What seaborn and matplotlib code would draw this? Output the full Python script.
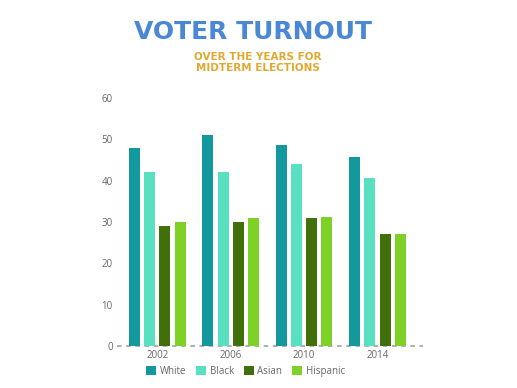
import matplotlib
matplotlib.use("Agg")
import matplotlib.pyplot as plt
import seaborn as sns
import pandas as pd

years = ["2002", "2006", "2010", "2014"]
groups = ["White", "Black", "Asian", "Hispanic"]
white = [48, 51, 48.6, 45.8]
black = [42, 42, 44, 40.7]
asian = [29, 30, 31, 27]
hispanic = [30, 31, 31.2, 27]
colors = ["#13989D", "#58E0C1", "#41700B", "#7ED127"]
yticks = [0, 10, 20, 30, 40, 50, 60]

rows = []
for g, vals in zip(groups, [white, black, asian, hispanic]):
    for y, v in zip(years, vals):
        rows.append({"Year": y, "Group": g, "Turnout": v})
df = pd.DataFrame(rows)

sns.set_style("white")
plt.rcParams["font.family"] = ["Open Sans", "DejaVu Sans"]

fig = plt.figure(figsize=(5.17, 3.88), dpi=100)
ax = fig.add_axes([117/517, 1-346/388, (423-117)/517, (346-98)/388])

sns.barplot(data=df, x="Year", y="Turnout", hue="Group", order=years,
            hue_order=groups, palette=colors, width=0.83, gap=0.28,
            saturation=1, ax=ax, legend=True, linewidth=0)

ax.set_ylim(0, 60)
ax.set_xlim(-0.55, 3.62)
ax.set_yticks(yticks)
ax.set_xlabel("")
ax.set_ylabel("")
for s in ax.spines.values():
    s.set_visible(False)
ax.axhline(0, color="#999999", lw=1.1, ls=(0, (3, 3)), zorder=0,
           clip_on=False)
ax.tick_params(axis="both", length=0, labelsize=7, colors="#666666")
ax.tick_params(axis="y", pad=3)
ax.tick_params(axis="x", pad=3)

h, l = ax.get_legend_handles_labels()
ax.legend(h, l, loc="center", bbox_to_anchor=(0.475, 0.043),
          bbox_transform=fig.transFigure, ncol=4, frameon=False,
          fontsize=7, handlelength=1.0, handleheight=1.0,
          handletextpad=0.4, columnspacing=1.0, labelcolor="#666666")

fig.text(0.489, 0.918, "VOTER TURNOUT", ha="center", va="center",
         fontsize=18, fontweight="bold", color="#4A88D6",
         family=["DejaVu Sans"])
fig.text(0.498, 0.838, "OVER THE YEARS FOR\nMIDTERM ELECTIONS", ha="center",
         va="center", fontsize=7.5, fontweight="bold", color="#E0A830",
         linespacing=1.1, family=["DejaVu Sans"])

fig.savefig("out.png", dpi=100)
